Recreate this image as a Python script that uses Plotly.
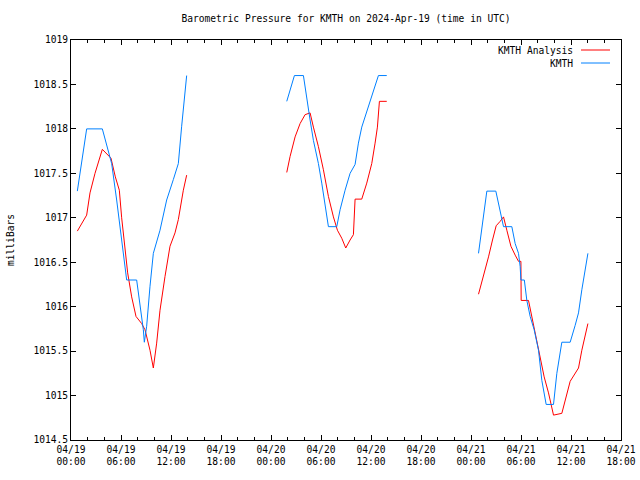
import datetime as dt
import plotly.graph_objects as go

START = dt.datetime(2024, 4, 19, 0, 0)

# hours since 2024-04-19 00:00 UTC, None separates data gaps
kmth_hours = [0.76, 1.88, 3.76, 4.28, 4.88, 5.48, 5.88, 6.28, 6.68, 7.88, 8.28, 8.68, 8.80, 9.08,
              9.48, 9.88, 10.68, 11.48, 12.28, 12.88, 13.28, 13.56, 13.88, None,
              25.89, 26.81, 27.89, 28.29, 28.69, 29.09, 29.69, 30.09, 30.49, 30.89, 31.89, 32.29,
              32.89, 33.49, 34.09, 34.49, 34.89, 35.49, 36.09, 36.89, 37.89, None,
              48.9, 49.3, 49.9, 50.98, 51.3, 51.9, 52.9, 53.3, 53.7, 53.9, 53.99, 54.4, 54.7,
              55.1, 55.58, 56.1, 56.5, 57.02, 57.9, 58.3, 58.9, 59.9, 60.5, 60.9, 61.3, 61.7, 62.03]
kmth_mb = [1017.30, 1018.00, 1018.00, 1017.82, 1017.61, 1017.20, 1016.90, 1016.56, 1016.30, 1016.30,
           1016.04, 1015.74, 1015.60, 1015.78, 1016.23, 1016.60, 1016.86, 1017.20, 1017.43, 1017.61,
           1018.03, 1018.29, 1018.60, None,
           1018.31, 1018.60, 1018.60, 1018.33, 1018.10, 1017.87, 1017.61, 1017.39, 1017.13, 1016.90,
           1016.90, 1017.09, 1017.31, 1017.50, 1017.60, 1017.84, 1018.02, 1018.19, 1018.38, 1018.60,
           1018.60, None,
           1016.6, 1016.9, 1017.3, 1017.3, 1017.16, 1016.9, 1016.9, 1016.71, 1016.6, 1016.45, 1016.3,
           1016.3, 1016.07, 1015.89, 1015.74, 1015.51, 1015.17, 1014.9, 1014.9, 1015.25, 1015.6,
           1015.6, 1015.79, 1015.93, 1016.19, 1016.41, 1016.6]

analysis_hours = [0.76, 1.88, 2.28, 2.88, 3.76, 4.28, 4.80, 5.32, 5.80, 6.08, 6.48, 6.80, 7.28, 7.80,
                  8.48, 8.88, 9.48, 9.88, 10.28, 10.68, 11.28, 11.88, 12.48, 12.88, 13.48, 13.88, None,
                  25.89, 26.29, 26.89, 27.49, 28.09, 28.69, 29.09, 29.69, 30.29, 30.89, 31.49, 31.97,
                  32.49, 32.97, 33.49, 33.89, 34.09, 34.89, 35.49, 36.09, 36.49, 36.77, 37.01, 37.89, None,
                  48.9, 49.5, 50.1, 50.58, 51.02, 51.5, 51.9, 52.3, 52.79, 53.3, 53.7, 53.99, 54.02, 54.9,
                  55.31, 55.82, 56.3, 56.78, 57.3, 57.9, 58.9, 59.3, 59.9, 60.9, 61.3, 62.03]
analysis_mb = [1016.85, 1017.03, 1017.28, 1017.50, 1017.77, 1017.72, 1017.67, 1017.46, 1017.31, 1017.00,
               1016.64, 1016.38, 1016.11, 1015.89, 1015.81, 1015.74, 1015.51, 1015.31, 1015.59, 1015.96,
               1016.34, 1016.68, 1016.83, 1016.98, 1017.31, 1017.48, None,
               1017.51, 1017.69, 1017.91, 1018.06, 1018.16, 1018.18, 1018.02, 1017.80, 1017.54, 1017.24,
               1017.01, 1016.86, 1016.77, 1016.66, 1016.75, 1016.81, 1017.21, 1017.21, 1017.39, 1017.61,
               1017.84, 1018.02, 1018.31, 1018.31, None,
               1016.14, 1016.34, 1016.56, 1016.75, 1016.91, 1016.96, 1017.01, 1016.86, 1016.68, 1016.58,
               1016.51, 1016.51, 1016.07, 1016.07, 1015.89, 1015.66, 1015.44, 1015.21, 1015.03, 1014.78,
               1014.80, 1014.95, 1015.16, 1015.31, 1015.51, 1015.81]

y_tick_vals = [1014.5, 1015, 1015.5, 1016, 1016.5, 1017, 1017.5, 1018, 1018.5, 1019]
y_tick_text = ["1014.5", "1015", "1015.5", "1016", "1016.5", "1017", "1017.5", "1018", "1018.5", "1019"]

series_names = ["KMTH Analysis", "KMTH"]
series_colors = ["#ff0000", "#0080ff"]

FONT = "DejaVu Sans Mono"
FS = 9.6


def to_time(hours):
    return [None if h is None else START + dt.timedelta(hours=h) for h in hours]


fig = go.Figure()
fig.add_trace(go.Scatter(x=to_time(analysis_hours), y=analysis_mb, mode="lines",
                         name=series_names[0], line=dict(color=series_colors[0], width=1),
                         connectgaps=False, showlegend=False))
fig.add_trace(go.Scatter(x=to_time(kmth_hours), y=kmth_mb, mode="lines",
                         name=series_names[1], line=dict(color=series_colors[1], width=1),
                         connectgaps=False, showlegend=False))

# gnuplot-style key: text right-aligned, sample line to the right
for i, (name, color) in enumerate(zip(series_names, series_colors)):
    ypix = 50 + i * 13
    yp = 1 - (ypix - 40) / 400
    fig.add_annotation(xref="paper", yref="paper", x=(575 - 71) / 550, y=yp, text=name,
                       showarrow=False, xanchor="right", yanchor="middle",
                       font=dict(family=FONT, size=FS, color="black"))
    fig.add_shape(type="line", xref="paper", yref="paper",
                  x0=(581 - 71) / 550, x1=(610 - 71) / 550, y0=yp, y1=yp,
                  line=dict(color=color, width=1))

fig.add_annotation(xref="paper", yref="paper", x=(10 - 71) / 550, y=0.5, text="milliBars",
                   textangle=-90, showarrow=False, xanchor="center", yanchor="middle",
                   font=dict(family=FONT, size=FS, color="black"))

fig.update_layout(
    width=640, height=480,
    margin=dict(l=71, r=19, t=40, b=40, autoexpand=False),
    paper_bgcolor="white", plot_bgcolor="white",
    font=dict(family=FONT, size=FS, color="black"),
    title=dict(text="Barometric Pressure for KMTH on 2024-Apr-19 (time in UTC)",
               x=346 / 640, xanchor="center", y=1 - 19 / 480, yanchor="middle",
               font=dict(family=FONT, size=FS, color="black")),
    showlegend=False,
)

fig.update_xaxes(
    type="date", automargin=False,
    range=[START, START + dt.timedelta(hours=66)],
    tickmode="linear", tick0=START, dtick=6 * 3600 * 1000,
    tickformat="%m/%d<br>%H:%M",
    ticks="inside", ticklen=5, tickcolor="black",
    minor=dict(dtick=2 * 3600 * 1000, tick0=START, ticks="inside", ticklen=3, tickcolor="black",
               showgrid=False),
    showline=True, linecolor="black", linewidth=1, mirror="ticks",
    showgrid=False, zeroline=False,
    tickfont=dict(family=FONT, size=FS, color="black"),
)
fig.update_yaxes(
    automargin=False,
    range=[1014.5, 1019],
    tickmode="array", tickvals=y_tick_vals, ticktext=y_tick_text,
    ticks="inside", ticklen=5, tickcolor="black",
    showline=True, linecolor="black", linewidth=1, mirror="ticks",
    showgrid=False, zeroline=False,
    tickfont=dict(family=FONT, size=FS, color="black"),
)

# remove the browser's default page margin so the 640x480 figure fills the window exactly
fig.write_html("out.html", config={"displayModeBar": False},
               post_script="document.body.style.margin='0';document.body.style.overflow='hidden';")
